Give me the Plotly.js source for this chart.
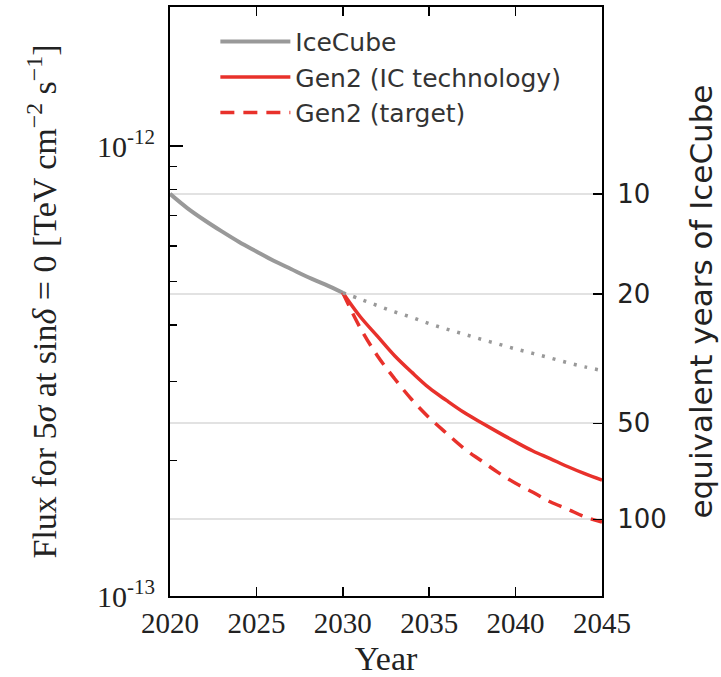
<!DOCTYPE html>
<html>
<head>
<meta charset="utf-8">
<script src="https://cdn.plot.ly/plotly-3.0.1.min.js"></script>
<style>
html,body{margin:0;padding:0;background:#fff;}
#chart{width:721px;height:677px;}
</style>
</head>
<body>
<div id="chart"></div>
<script>
// ---- data ----
const yearsIceCube = [2020,2021,2022,2023,2024,2025,2026,2027,2028,2029,2030];
const fluxIceCube  = [7.83e-13,7.28e-13,6.84e-13,6.46e-13,6.12e-13,5.83e-13,5.56e-13,5.33e-13,5.11e-13,4.92e-13,4.72e-13];

const yearsFuture = [2030,2031,2032,2033,2034,2035,2036,2037,2038,2039,2040,2041,2042,2043,2044,2045];
const fluxIceCubeCont = [4.72e-13,4.57e-13,4.42e-13,4.28e-13,4.16e-13,4.03e-13,3.92e-13,3.82e-13,3.72e-13,3.63e-13,3.54e-13,3.46e-13,3.38e-13,3.30e-13,3.23e-13,3.17e-13];
const fluxGen2IC     = [4.72e-13,4.18e-13,3.78e-13,3.42e-13,3.14e-13,2.90e-13,2.72e-13,2.56e-13,2.43e-13,2.31e-13,2.20e-13,2.10e-13,2.02e-13,1.94e-13,1.87e-13,1.81e-13];
const fluxGen2Target = [4.72e-13,3.95e-13,3.42e-13,3.04e-13,2.73e-13,2.49e-13,2.30e-13,2.13e-13,2.00e-13,1.88e-13,1.78e-13,1.70e-13,1.62e-13,1.56e-13,1.50e-13,1.46e-13];

const seriesNames = ["IceCube","Gen2 (IC technology)","Gen2 (target)"];

// left axis ticks
const leftTickVals = [1e-13,1e-12];
const leftTickText = ["10<sup>-13</sup>","10<sup>-12</sup>"];
const leftMinorVals = [2e-13,3e-13,4e-13,5e-13,6e-13,7e-13,8e-13,9e-13];

// right axis: equivalent years of IceCube
const rightTickFlux = [7.83e-13,4.69e-13,2.42e-13,1.48e-13];
const rightTickText = ["10","20","50","100"];

const xTickVals = [2020,2025,2030,2035,2040,2045];

// ---- styles ----
const GRAY = "#999999";
const RED = "#e8312b";
const SERIF = "Liberation Serif, DejaVu Serif, serif";
const SANS = "DejaVu Sans, sans-serif";

const traces = [
  {x: yearsIceCube, y: fluxIceCube, name: seriesNames[0], legendgroup:"a", type:"scatter", mode:"lines",
   line:{color:GRAY, width:4, shape:"spline", smoothing:1}},
  {x: yearsFuture, y: fluxGen2IC, name: seriesNames[1], legendgroup:"b", type:"scatter", mode:"lines",
   line:{color:RED, width:3.5, shape:"spline", smoothing:1}},
  {x: yearsFuture, y: fluxGen2Target, name: seriesNames[2], legendgroup:"c", type:"scatter", mode:"lines",
   line:{color:RED, width:3.5, dash:"14px,9px", shape:"spline", smoothing:1}},
  {x: yearsFuture, y: fluxIceCubeCont, name: "IceCube (cont.)", type:"scatter", mode:"lines",
   line:{color:GRAY, width:3.5, dash:"3px,8px", shape:"spline", smoothing:1}, showlegend:false},
  // invisible trace to activate right axis
  {x: [2020], y: [rightTickFlux[0]], yaxis:"y2", type:"scatter", mode:"markers",
   marker:{opacity:0}, showlegend:false, hoverinfo:"skip"}
];

const logRange = [-13, -13 + 589/450];

const layout = {
  width: 721, height: 677,
  margin: {l:170, r:119, t:7, b:81, pad:0},
  paper_bgcolor:"#fff", plot_bgcolor:"#fff",
  showlegend: true,
  legend: {x:0.105, y:0.98, xanchor:"left", yanchor:"top",
    bgcolor:"rgba(0,0,0,0)", font:{family:SANS, size:25, color:"#333"},
    tracegroupgap:0, itemwidth:70},
  xaxis: {
    range:[2020,2045], tickvals:xTickVals, ticks:"inside", ticklen:9, tickwidth:1.5,
    tickcolor:"#000", showline:true, linecolor:"#000", linewidth:2, mirror:"ticks",
    showgrid:false, zeroline:false,
    tickfont:{family:SERIF, size:29, color:"#222"},
    title:{text:"Year", font:{family:SERIF, size:34, color:"#222"}, standoff:8}
  },
  yaxis: {
    type:"log", range:logRange, tickmode:"array", tickvals:leftTickVals, ticktext:leftTickText,
    ticks:"inside", ticklen:13, tickwidth:1.5, tickcolor:"#000", ticklabelstandoff:7,
    minor:{tickmode:"array", tickvals:leftMinorVals, ticks:"inside", ticklen:7, tickwidth:1.5, tickcolor:"#000", showgrid:false},
    showline:true, linecolor:"#000", linewidth:2, showgrid:false, zeroline:false,
    tickfont:{family:SERIF, size:30, color:"#222"},
    title:{text:"Flux for 5<i>σ</i> at sin<i>δ</i> = 0 [TeV cm<sup>−2</sup> s<sup>−1</sup>]",
      font:{family:SERIF, size:34, color:"#222"}, standoff:30}
  },
  yaxis2: {
    type:"log", range:logRange, overlaying:"y", side:"right",
    tickmode:"array", tickvals:rightTickFlux, ticktext:rightTickText,
    ticks:"inside", ticklen:9, tickwidth:1.5, tickcolor:"#000", ticklabelstandoff:8,
    showline:true, linecolor:"#000", linewidth:2,
    showgrid:true, gridcolor:"#e2e2e2", gridwidth:2, zeroline:false,
    tickfont:{family:SANS, size:26, color:"#222"},
    title:{text:"equivalent years of IceCube", font:{family:SANS, size:31, color:"#222"}, standoff:24}
  }
};

Plotly.newPlot("chart", traces, layout, {displayModeBar:false, staticPlot:true});
</script>
</body>
</html>
